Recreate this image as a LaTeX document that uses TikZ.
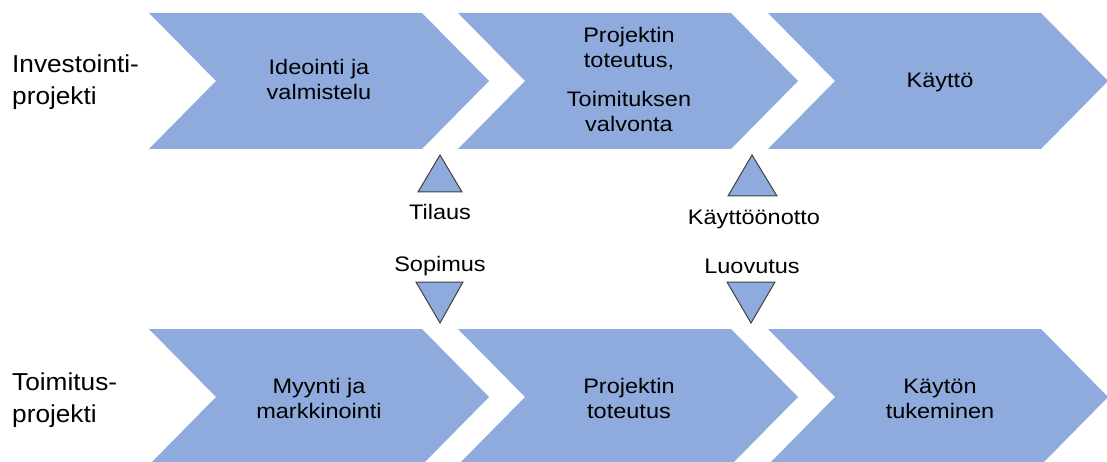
\documentclass[tikz,border=0pt]{standalone}
\usepackage{fontspec}
\setmainfont{Liberation Sans}
\newfontfamily\boxfont[FakeStretch=1.12]{Liberation Sans}
\newfontfamily\sidefont[FakeStretch=1.07]{Liberation Sans}
\definecolor{chevblue}{HTML}{8FAADC}
\definecolor{edgegray}{HTML}{404040}

\begin{document}
\begin{tikzpicture}[x=1pt,y=-1pt,
  chevron/.pic={\fill[chevblue] (0,0) -- (273,0) -- (340,68) -- (273,136) -- (0,136) -- (67,68) -- cycle;},
  stagetext/.style={align=center, anchor=base, inner sep=0pt, font=\boxfont\fontsize{21}{25}\selectfont},
  rowlabel/.style={align=left, anchor=base west, inner sep=0pt, font=\sidefont\fontsize{24.5}{32}\selectfont},
  milestone/.style={anchor=base, inner sep=0pt, font=\boxfont\fontsize{21}{25}\selectfont},
  marker/.style={fill=chevblue, draw=edgegray, line width=1pt, line join=miter}]
\useasboundingbox (0,0) rectangle (1107,462);
\clip (0,0) rectangle (1107,462);

% investment project row
\pic at (149,13) {chevron};
\pic at (458,13) {chevron};
\pic at (768,13) {chevron};
% delivery project row
\pic at (149,329) {chevron};
\pic at (458,329) {chevron};
\pic at (768,329) {chevron};

% row labels (base = baseline of the last line)
\node[rowlabel] (invlabel) at (12,105) {Investointi-\\projekti};
\node[rowlabel] (dellabel) at (12,422) {Toimitus-\\projekti};

% stage texts
\node[stagetext] (ideointi) at (319,100) {Ideointi ja\\valmistelu};
\node[stagetext] (toteutus) at (629,132) {Projektin\\toteutus,\\[14pt]Toimituksen\\valvonta};
\node[stagetext] (kaytto) at (940,88) {Käyttö};
\node[stagetext] (myynti) at (319,418) {Myynti ja\\markkinointi};
\node[stagetext] (projekti) at (629,418) {Projektin\\toteutus};
\node[stagetext] (tuki) at (940,418) {Käytön\\tukeminen};

% milestone markers
\filldraw[marker] (440,155) -- (462,192) -- (418,192) -- cycle;
\filldraw[marker] (752,155) -- (777,196) -- (728,196) -- cycle;
\filldraw[marker] (416,282) -- (463,282) -- (440,323) -- cycle;
\filldraw[marker] (727,282) -- (775,282) -- (751,323) -- cycle;

\node[milestone] (tilaus) at (440,219) {Tilaus};
\node[milestone] (sopimus) at (440,271) {Sopimus};
\node[milestone] (kayttoonotto) at (754,225) {Käyttöönotto};
\node[milestone] (luovutus) at (752,273) {Luovutus};
\end{tikzpicture}
\end{document}
